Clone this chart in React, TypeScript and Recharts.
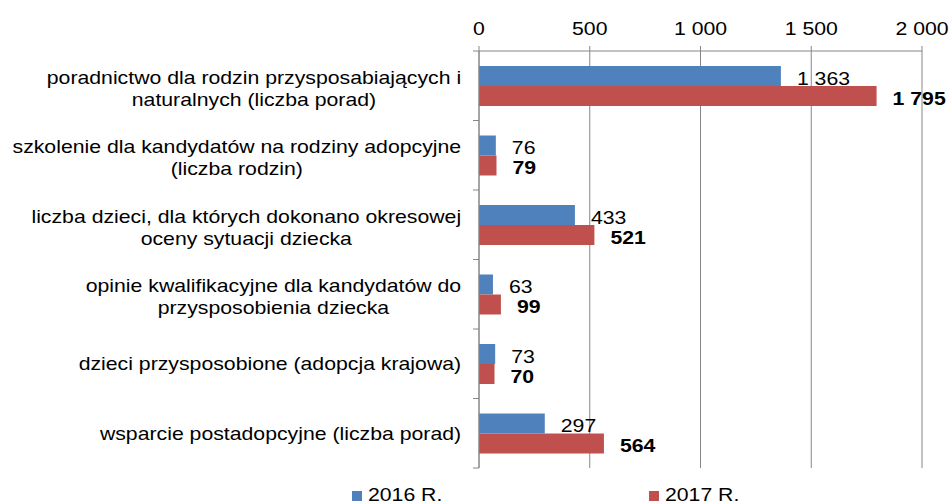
import React from 'react';
import { BarChart, Bar, XAxis, YAxis, CartesianGrid, LabelList, Legend } from 'recharts';

const categories = [
  'poradnictwo dla rodzin przysposabiających i\nnaturalnych (liczba porad)',
  'szkolenie dla kandydatów na rodziny adopcyjne\n(liczba rodzin)',
  'liczba dzieci, dla których dokonano okresowej\noceny sytuacji dziecka',
  'opinie kwalifikacyjne dla kandydatów do\nprzysposobienia dziecka',
  'dzieci przysposobione (adopcja krajowa)',
  'wsparcie postadopcyjne (liczba porad)',
];
const values2016 = [1363, 76, 433, 63, 73, 297];
const values2017 = [1795, 79, 521, 99, 70, 564];
const xTicks = [0, 500, 1000, 1500, 2000];
const seriesNames = ['2016 R.', '2017 R.'];

const data = categories.map((c, i) => ({ name: c, v2016: values2016[i], v2017: values2017[i] }));

const W = 950;
const H = 504;
const FONT = '"Liberation Sans", Arial, sans-serif';
const FS = 17.7;
const SX = 1.2;
const M = { top: 21, right: 28, bottom: 16, left: 0 };
const X_AXIS_H = 30;
const Y_AXIS_W = 479;
const LEGEND_H = 20;
const PLOT_TOP = M.top + X_AXIS_H;
const PLOT_BOTTOM = H - M.bottom - LEGEND_H;
const BAND = (PLOT_BOTTOM - PLOT_TOP) / categories.length;
const GRID = '#868686';
const BLUE = '#4F81BD';
const RED = '#C0504D';
const LEGEND_X = [352, 649];

const fmt = (v: number) => String(v).replace(/\B(?=(\d{3})+(?!\d))/g, '\u00a0');

let ctx: CanvasRenderingContext2D | null = null;
function measure(t: string): number {
  if (!ctx) ctx = document.createElement('canvas').getContext('2d');
  if (!ctx) return t.length * FS * 0.5 * SX;
  ctx.font = `${FS}px "Liberation Sans"`;
  return ctx.measureText(t).width * SX;
}

const CategoryTick = (props: any) => {
  const { y, payload, index } = props;
  const lines = String(payload.value).split('\n');
  const maxW = Math.max(...lines.map(measure));
  const right = Y_AXIS_W - 18;
  const cx = right - maxW / 2;
  const firstBaseline = lines.length > 1 ? y - 2 : y + 6.5;
  const top = y - BAND / 2;
  return (
    <g>
      <line x1={Y_AXIS_W - 6} x2={Y_AXIS_W} y1={top} y2={top} stroke={GRID} />
      {index === categories.length - 1 && (
        <line x1={Y_AXIS_W - 6} x2={Y_AXIS_W} y1={top + BAND} y2={top + BAND} stroke={GRID} />
      )}
      {lines.map((ln, i) => (
        <g key={i} transform={`translate(${cx},${firstBaseline + i * 21.8}) scale(${SX},1)`}>
          <text textAnchor="middle" fontFamily={FONT} fontSize={FS} fill="#000">
            {ln}
          </text>
        </g>
      ))}
    </g>
  );
};

const ValueTick = (props: any) => {
  const { x, payload } = props;
  return (
    <g transform={`translate(${x},${PLOT_TOP - 16}) scale(${SX},1)`}>
      <text textAnchor="middle" fontFamily={FONT} fontSize={FS} fill="#000">
        {fmt(payload.value)}
      </text>
    </g>
  );
};

const makeLabel = (bold: boolean) => (p: any) => {
  const { x, y, width, height, value } = p;
  return (
    <g transform={`translate(${x + width + 16},${y + height / 2 + 8.5}) scale(${SX},1)`}>
      <text fontFamily={FONT} fontSize={FS} fontWeight={bold ? 'bold' : 'normal'} fill="#000">
        {fmt(value)}
      </text>
    </g>
  );
};

const LegendContent = (props: any) => {
  const payload = props.payload || [];
  return (
    <div style={{ position: 'relative', width: W, height: LEGEND_H, fontFamily: FONT, fontSize: FS }}>
      {payload.map((item: any, i: number) => (
        <div key={i}>
          <div
            style={{
              position: 'absolute',
              left: LEGEND_X[i],
              top: 7,
              width: 10,
              height: 10,
              background: item.color,
            }}
          />
          <span
            style={{
              position: 'absolute',
              left: LEGEND_X[i] + 16,
              top: 2.7,
              lineHeight: 1,
              whiteSpace: 'nowrap',
              color: '#000',
              transform: `scaleX(${SX})`,
              transformOrigin: 'left center',
            }}
          >
            {item.value}
          </span>
        </div>
      ))}
    </div>
  );
};

export default function App() {
  return (
    <div style={{ position: 'absolute', left: 0, top: 0, width: W, height: H, background: '#fff', overflow: 'hidden' }}>
      <BarChart
        width={W}
        height={H}
        data={data}
        layout="vertical"
        margin={M}
        barCategoryGap={15}
        barGap={0}
      >
        <CartesianGrid horizontal={false} stroke={GRID} />
        <XAxis
          type="number"
          orientation="top"
          domain={[0, 2000]}
          ticks={xTicks}
          interval={0}
          height={X_AXIS_H}
          tickSize={5}
          tick={<ValueTick />}
          axisLine={{ stroke: GRID }}
          tickLine={{ stroke: GRID }}
        />
        <YAxis
          type="category"
          dataKey="name"
          width={Y_AXIS_W}
          interval={0}
          tickLine={false}
          axisLine={{ stroke: GRID }}
          tick={<CategoryTick />}
        />
        <Legend
          verticalAlign="bottom"
          wrapperStyle={{ top: 484, left: 0, width: W }}
          content={<LegendContent />}
        />
        <Bar dataKey="v2016" name={seriesNames[0]} fill={BLUE} isAnimationActive={false}>
          <LabelList dataKey="v2016" content={makeLabel(false)} />
        </Bar>
        <Bar dataKey="v2017" name={seriesNames[1]} fill={RED} isAnimationActive={false}>
          <LabelList dataKey="v2017" content={makeLabel(true)} />
        </Bar>
      </BarChart>
    </div>
  );
}
